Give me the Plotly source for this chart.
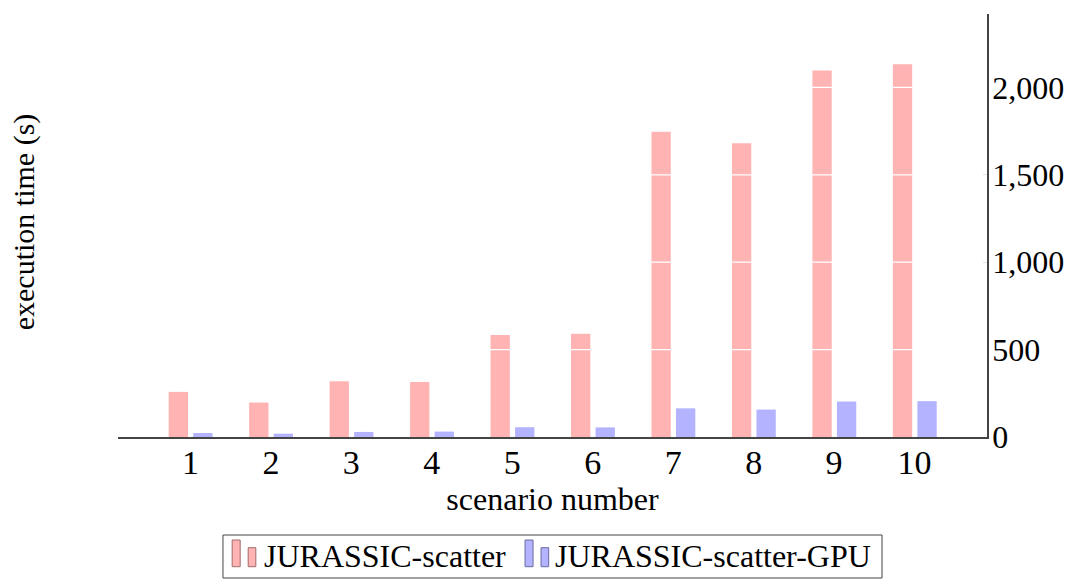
import plotly.graph_objects as go

scenarios = [1, 2, 3, 4, 5, 6, 7, 8, 9, 10]
cpu_times = [258, 197, 319, 315, 584, 590, 1746, 1681, 2097, 2132]
gpu_times = [23, 19, 29, 31, 56, 55, 164, 157, 203, 205]
series_names = ["JURASSIC-scatter", "JURASSIC-scatter-GPU"]
y_ticks = [0, 500, 1000, 1500, 2000]
y_tick_labels = ["0", "500", "1,000", "1,500", "2,000"]

FONT = "Liberation Serif"
FS = 31
fills = ["#ffb3b3", "#b3b3ff"]
edges = ["#a06a6a", "#6a6aa0"]

fig = go.Figure()
fig.add_trace(go.Bar(
    x=scenarios, y=cpu_times, name=series_names[0],
    offset=-0.27, width=0.24,
    marker=dict(color=fills[0], line=dict(width=0)),
))
fig.add_trace(go.Bar(
    x=scenarios, y=gpu_times, name=series_names[1],
    offset=0.035, width=0.24,
    marker=dict(color=fills[1], line=dict(width=0)),
))

# white grid lines drawn over the bars (pgfplots style)
for v in y_ticks[1:]:
    fig.add_shape(type="line", xref="paper", yref="y", x0=0, x1=1, y0=v, y1=v,
                  line=dict(color="white", width=1.2), layer="above")

# legend drawn pgfplots-style below the axis
fig.add_shape(type="rect", xref="paper", yref="paper",
              x0=0.1208, x1=0.8792, y0=-0.2317, y1=-0.3333,
              line=dict(color="#444444", width=1), fillcolor="white", layer="above")
icon_x = [0.1314, 0.4684]
text_x = [0.1652, 0.5009]
for i in range(2):
    x0 = icon_x[i]
    fig.add_shape(type="rect", xref="paper", yref="paper",
                  x0=x0, x1=x0 + 0.0092, y0=-0.2435, y1=-0.3066,
                  line=dict(color=edges[i], width=1), fillcolor=fills[i], layer="above")
    fig.add_shape(type="rect", xref="paper", yref="paper",
                  x0=x0 + 0.0184, x1=x0 + 0.0272, y0=-0.2617, y1=-0.3066,
                  line=dict(color=edges[i], width=1), fillcolor=fills[i], layer="above")

annotations = [dict(
    text="execution time (s)", xref="paper", yref="paper",
    x=-0.108, y=0.508, xanchor="center", yanchor="middle",
    textangle=-90, showarrow=False, font=dict(family=FONT, size=30),
)]
for i in range(2):
    annotations.append(dict(
        text=series_names[i], xref="paper", yref="paper",
        x=text_x[i], y=-0.2813, xanchor="left", yanchor="middle",
        showarrow=False, font=dict(family=FONT, size=32),
    ))

fig.update_layout(
    width=1066, height=571,
    margin=dict(l=110, r=87, t=6, b=142, autoexpand=False),
    paper_bgcolor="white", plot_bgcolor="white",
    barmode="overlay",
    font=dict(family=FONT, size=FS, color="black"),
    showlegend=False,
    xaxis=dict(
        range=[0.1, 10.9], tickvals=scenarios, ticktext=[str(s) for s in scenarios],
        showgrid=False, zeroline=False,
        showline=True, linecolor="#444444", linewidth=1.5,
        ticks="", ticklen=0, ticklabelstandoff=-6,
        title=dict(text="scenario number", font=dict(family=FONT, size=32), standoff=4),
        tickfont=dict(family=FONT, size=34),
    ),
    yaxis=dict(
        range=[0, 2420], side="right", tickvals=y_ticks, ticktext=y_tick_labels,
        showgrid=False, zeroline=False,
        showline=True, linecolor="#444444", linewidth=1.5,
        ticks="inside", ticklen=4, tickcolor="#888888", ticklabelstandoff=-3,
        tickfont=dict(family=FONT, size=32),
    ),
    annotations=annotations,
)

fig.write_html("out.html")
